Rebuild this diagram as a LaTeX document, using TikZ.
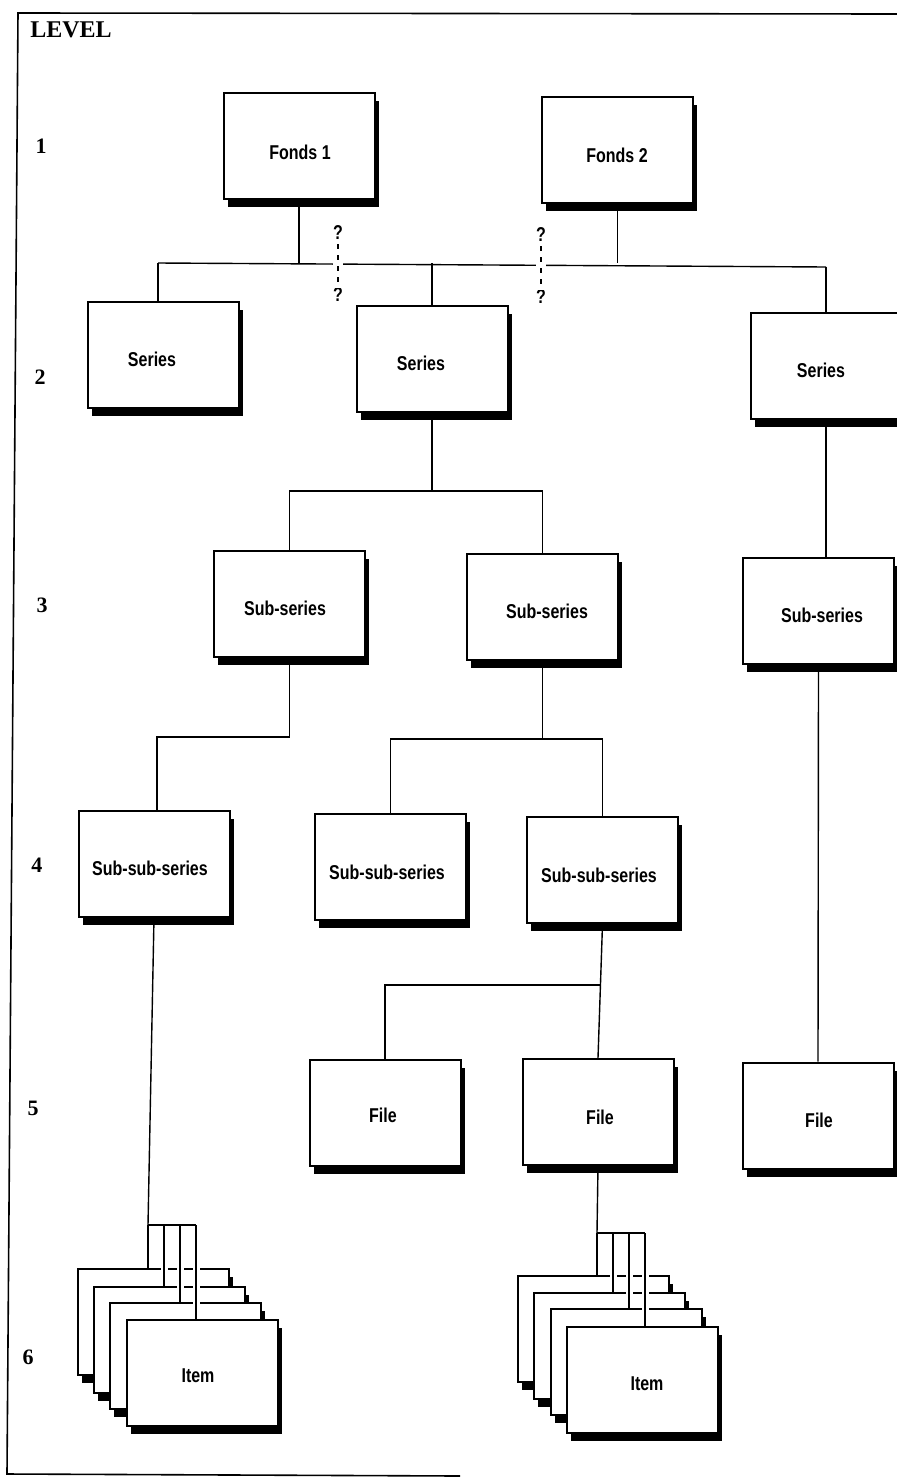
\documentclass[tikz,border=0pt]{standalone}
\usepackage{fontspec}
\newfontfamily\boxfont[FakeStretch=0.8]{Liberation Sans}
\newfontfamily\lvlfont{Liberation Serif}
\usetikzlibrary{shadows,backgrounds}
\begin{document}
\begin{tikzpicture}[x=0.5pt,y=-0.5pt,
  box/.style={draw, line width=1pt, fill=white, inner sep=0pt,
    minimum width=75.5pt, minimum height=53pt,
    general shadow={fill=black, shadow xshift=2pt, shadow yshift=-4pt}},
  conn/.style={line width=0.7pt},
  halo/.style={draw=white, line width=3.5pt},
  lbl/.style={font=\boxfont\bfseries\fontsize{10}{12}\selectfont, inner sep=0pt},
  lvl/.style={font=\lvlfont\bfseries\fontsize{11}{13}\selectfont, inner sep=0pt},
  qdash/.style={line width=0.7pt, dash pattern=on 2.5pt off 3pt},
  frame/.style={line width=0.8pt}]
\useasboundingbox (0,0) rectangle (897,1478);
\clip (0,0) rectangle (897,1478);

% frame
\draw[frame] (897,14) -- (18,13) -- (7,1474) -- (460,1476);

% boxes
\node[box] (f1) at (299,145.5) {};
\node[box] (f2) at (617.5,150) {};
\node[box] (s1) at (163.5,354.5) {};
\node[box] (s2) at (432,359) {};
\node[box] (s3) at (826,365.5) {};
\node[box] (ss1) at (289.5,603.5) {};
\node[box] (ss2) at (542.5,606.5) {};
\node[box] (ss3) at (818.5,611) {};
\node[box] (sss1) at (154,863.5) {};
\node[box] (sss2) at (390.5,867) {};
\node[box] (sss3) at (602.5,870) {};
\node[box] (fi1) at (385,1112.5) {};
\node[box] (fi2) at (598,1112) {};
\node[box] (fi3) at (818,1115.5) {};

% tree connectors, behind the boxes
\begin{scope}[on background layer]
\fill[white] (0,0) rectangle (897,1478);
\coordinate (tl) at (158,263);
\coordinate (tr) at (826,267);
\draw[conn] (tl) -- (tr);
\draw[conn] (tl) -- (tl |- s1.north);
\draw[conn] (tr) -- (tr |- s3.north);
\draw[conn] (f1.south) -- (f1.south |- tl);
\draw[conn] (f2.south) -- (f2.south |- tl);
\draw[conn] (s2.north) -- (s2.north |- tl);

\coordinate (j2) at (432,491);
\draw[conn] (s2.south) -- (j2);
\draw[conn] (ss1.north) |- (j2) -| (ss2.north);

\coordinate (j3) at (157,737);
\draw[conn] (ss1.south) |- (j3) -- (j3 |- sss1.north);

\coordinate (j4) at (541,739);
\draw[conn] (ss2.south) -- (ss2.south |- j4);
\draw[conn] (sss2.north) |- (j4) -| (sss3.north);

\coordinate (j5) at (600,985);
\draw[conn] (sss3.south) -- (fi2.north);
\draw[conn] (fi1.north) |- (j5);

\draw[conn] (s3.south) -- (s3.south |- ss3.north);
\draw[conn] (ss3.south) -- (fi3.north);
\end{scope}

% question marks on the fonds links
\node[lbl] (qa1) at (338,233) {?};
\node[lbl] (qb1) at (338,295) {?};
\node[lbl] (qa2) at (541,235) {?};
\node[lbl] (qb2) at (541,297) {?};
\draw[white, line width=5pt] (qa1.south) -- (qb1.north);
\draw[white, line width=5pt] (qa2.south) -- (qb2.north);
\draw[qdash] ([yshift=-2pt]qa1.south) -- ([yshift=2pt]qb1.north);
\draw[qdash] ([yshift=-2pt]qa2.south) -- ([yshift=2pt]qb2.north);

% item stacks
\node[box] (c1) at (153,1322) {};
\node[box] (c2) at (169,1339.5) {};
\node[box] (c3) at (185,1356) {};
\node[box] (c4) at (202,1372.5) {};
\node[box] (d1) at (593,1329) {};
\node[box] (d2) at (609.5,1345.5) {};
\node[box] (d3) at (626,1362) {};
\node[box] (d4) at (642.5,1380) {};

\coordinate (cl1) at (148,1225);
\coordinate (cl2) at (164,1225);
\coordinate (cl3) at (180,1225);
\coordinate (cl4) at (196,1225);
\begin{scope}[on background layer]
\draw[conn] (sss1.south) -- (cl1);
\draw[conn] (fi2.south) -- (597,1233);
\end{scope}
\draw[conn] (cl1) -- (cl4);
\draw[conn] (cl1) -- (cl1 |- c1.north);
\draw[halo] ([yshift=-2pt]cl2) -- ([yshift=1.2pt]cl2 |- c2.north);
\draw[halo] ([yshift=-2pt]cl3) -- ([yshift=1.2pt]cl3 |- c3.north);
\draw[halo] ([yshift=-2pt]cl4) -- ([yshift=1.2pt]cl4 |- c4.north);
\draw[conn] (cl2) -- (cl2 |- c2.north);
\draw[conn] (cl3) -- (cl3 |- c3.north);
\draw[conn] (cl4) -- (cl4 |- c4.north);

\coordinate (cr1) at (597,1233);
\coordinate (cr2) at (613,1233);
\coordinate (cr3) at (629,1233);
\coordinate (cr4) at (645,1233);
\draw[conn] (cr1) -- (cr4);
\draw[conn] (cr1) -- (cr1 |- d1.north);
\draw[halo] ([yshift=-2pt]cr2) -- ([yshift=1.2pt]cr2 |- d2.north);
\draw[halo] ([yshift=-2pt]cr3) -- ([yshift=1.2pt]cr3 |- d3.north);
\draw[halo] ([yshift=-2pt]cr4) -- ([yshift=1.2pt]cr4 |- d4.north);
\draw[conn] (cr2) -- (cr2 |- d2.north);
\draw[conn] (cr3) -- (cr3 |- d3.north);
\draw[conn] (cr4) -- (cr4 |- d4.north);

% labels
\node[lbl] (tf1) at (300,152) {Fonds 1};
\node[lbl] (tf2) at (617,155) {Fonds 2};
\node[lbl] (ts1) at (152,359) {Series};
\node[lbl] (ts2) at (421,363) {Series};
\node[lbl] (ts3) at (821,370) {Series};
\node[lbl] (tss1) at (285,608) {Sub-series};
\node[lbl] (tss2) at (547,611) {Sub-series};
\node[lbl] (tss3) at (822,615) {Sub-series};
\node[lbl] (tsss1) at (150,868) {Sub-sub-series};
\node[lbl] (tsss2) at (387,872) {Sub-sub-series};
\node[lbl] (tsss3) at (599,875) {Sub-sub-series};
\node[lbl] (tfi1) at (383,1115) {File};
\node[lbl] (tfi2) at (600,1117) {File};
\node[lbl] (tfi3) at (819,1120) {File};
\node[lbl] (tc) at (198,1376) {Item};
\node[lbl] (td) at (647,1384) {Item};

% level column
\node[lvl, font=\lvlfont\bfseries\fontsize{12}{14}\selectfont] (lev) at (71,30) {LEVEL};
\node[lvl] (l1) at (41,146) {1};
\node[lvl] (l2) at (40,377) {2};
\node[lvl] (l3) at (42,605) {3};
\node[lvl] (l4) at (37,865) {4};
\node[lvl] (l5) at (33,1108) {5};
\node[lvl] (l6) at (28,1357) {6};
\end{tikzpicture}
\end{document}
